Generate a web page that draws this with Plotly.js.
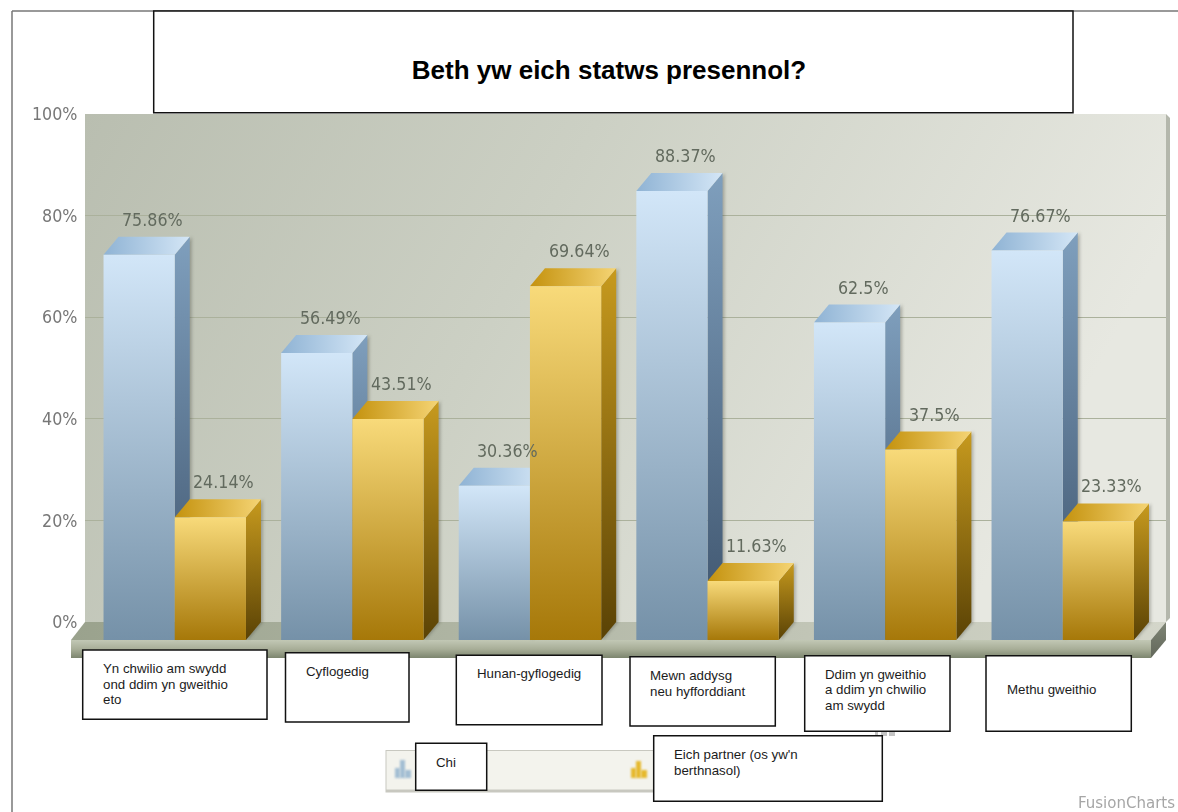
<!DOCTYPE html>
<html>
<head>
<meta charset="utf-8">
<script src="https://cdn.plot.ly/plotly-3.0.0.min.js"></script>
<style>html,body{margin:0;padding:0;background:#fff;overflow:hidden}#chart{width:1178px;height:812px}</style>
</head>
<body>
<div id="chart"></div>
<script>
const chartTitle = "Beth yw eich statws presennol?";
const categories = ["Yn chwilio am swydd<br>ond ddim yn gweithio<br>eto","Cyflogedig","Hunan-gyflogedig","Mewn addysg<br>neu hyfforddiant","Ddim yn gweithio<br>a ddim yn chwilio<br>am swydd","Methu gweithio"];
const chiValues = [75.86,56.49,30.36,88.37,62.5,76.67];
const partnerValues = [24.14,43.51,69.64,11.63,37.5,23.33];
const seriesNames = ["Chi","Eich partner (os yw'n<br>berthnasol)"];
const yTicks = [0,20,40,60,80,100];

const W=1178,H=812;
const X=p=>p/W, Y=p=>1-p/H;
// scale of the front plane
const catPx=177.6, x0Px=174.75, pctPx=5.08, baseY=640;
const depthX=15/catPx, depthY=18/pctPx;
const bargap=0.198, barW=(1-bargap)/2;

const shapes=[], grads={}, shadowed=[], blurred=[];
function add(s,g){shapes.push(s); if(g) grads[shapes.length-1]=g;}
function pxPath(pts){return 'M'+pts.map(p=>X(p[0])+','+Y(p[1])).join('L')+'Z';}
function paperPoly(pts,fill,g,layer){add({type:'path',xref:'paper',yref:'paper',path:pxPath(pts),fillcolor:fill,line:{width:0},layer:layer||'below'},g);}
function box(x0,y0,x1,y1){add({type:'rect',xref:'paper',yref:'paper',x0:X(x0),x1:X(x1),y0:Y(y0),y1:Y(y1),fillcolor:'#fff',line:{color:'#111',width:1.5},layer:'above'});}

// frame
add({type:'line',xref:'paper',yref:'paper',x0:X(12),x1:X(12),y0:Y(11),y1:0,line:{color:'#777',width:1.5},layer:'below'});
add({type:'line',xref:'paper',yref:'paper',x0:X(12),x1:1,y0:Y(11),y1:Y(11),line:{color:'#777',width:1.5},layer:'below'});
// wall
paperPoly([[85,114],[1166,114],[1166,622],[85,622]],'#d0d3c8','wall');
paperPoly([[1166,114],[1170,118],[1170,618],[1166,622]],'#b4b7ac');
// floor
const floorShapes=[
 [[[71,640],[85,622],[1166,622],[1151,640]],'#b8bdac','floorTop'],
 [[[71,640],[1151,640],[1151,658],[71,658]],'#a0a690','floorFront'],
 [[[1151,640],[1166,622],[1166,640],[1151,658]],'#70766a','floorSide']
];
floorShapes.forEach(f=>paperPoly(f[0],f[1],f[2]));

// 3D faces of the bars, derived from the data
function faces(i,v,offset,side,top){
  const l=i+offset-barW, r=i+offset, d=depthX, h=depthY;
  const q=(a)=>'M'+a.map(p=>p[0]+','+p[1]).join('L')+'Z';
  add({type:'path',xref:'x2',yref:'y2',layer:'below',line:{width:0},fillcolor:'#6a86a0',
       path:q([[r,0],[r+d,h],[r+d,v+h],[r,v]])},side);
  shadowed.push(shapes.length-1);
  add({type:'path',xref:'x2',yref:'y2',layer:'below',line:{width:0},fillcolor:'#a8c4dc',
       path:q([[l,v],[r,v],[r+d,v+h],[l+d,v+h]])},top);
}
categories.forEach((c,i)=>{
  faces(i,chiValues[i],0,'blueSide','blueTop');
});
categories.forEach((c,i)=>{
  faces(i,partnerValues[i],barW,'goldSide','goldTop');
});

// legend background and icons
paperPoly([[385.5,750],[880,750],[880,792.5],[385.5,792.5]],'#c8c8c0');
paperPoly([[386.5,751],[879,751],[879,789.5],[386.5,789.5]],'#f3f3ed');
const bI='#a3bed3', gI='#e6b92e';
[[[395,768],[400,768],[400,778],[395,778]],[[400,760],[405,760],[405,778],[400,778]],[[405,770],[411,770],[411,778],[405,778]]].forEach(p=>{paperPoly(p,bI,null,'above');blurred.push(shapes.length-1);});
[[[631,768],[636,768],[636,778],[631,778]],[[636,761],[641,761],[641,778],[636,778]],[[641,770],[647,770],[647,778],[641,778]]].forEach(p=>{paperPoly(p,gI,null,'above');blurred.push(shapes.length-1);});
// faint remains of hidden text between two boxes
[[875,731,878,736],[881,731,887,736],[889,731,895,736]].forEach(r=>paperPoly([[r[0],r[1]],[r[2],r[1]],[r[2],r[3]],[r[0],r[3]]],'#c4c4c4',null,'above'));

// white label boxes
const boxes=[[82.7,650,267,719.3],[285.5,652.7,409,722],[456.3,655.3,602,724.7],[630,656.7,775.3,726],[804.7,655.7,950,731.3],[986,655.7,1131.3,731.3],[415.7,743.3,486.7,790.3],[653.7,735.7,882.3,801.3]];
add({type:'rect',xref:'paper',yref:'paper',x0:X(153.7),x1:X(1073),y0:Y(11),y1:Y(112.7),fillcolor:'#fff',line:{color:'#111',width:1.5},layer:'above'});
boxes.forEach(b=>box(b[0],b[1],b[2],b[3]));

const annotations=[];
const softFont='DejaVu Sans Condensed';
// value labels
function valueLabels(vals,offset,color){
  vals.forEach((v,i)=>annotations.push({xref:'x2',yref:'y2',x:i+offset-barW/2,y:v,xshift:13.5,yshift:35,text:v+'%',showarrow:false,xanchor:'center',yanchor:'middle',font:{family:softFont,size:17.7,color:color}}));
}
valueLabels(chiValues,0,'#626a5e');
valueLabels(partnerValues,barW,'#626a5e');
const softCount=annotations.length;
// category labels, line by line
const lineH=15.5;
const labelPos=[[101,668.7],[303.5,671.5],[474.7,673],[647.7,675.7],[822.7,674],[1004.7,689.3]];
function textLines(t,x,y){
  t.split('<br>').forEach((s,k)=>annotations.push({xref:'paper',yref:'paper',x:X(x),y:Y(y+k*lineH),text:s,showarrow:false,xanchor:'left',yanchor:'middle',align:'left',font:{family:'Liberation Sans',size:13.3,color:'#1c1c1c'}}));
}
categories.forEach((c,i)=>textLines(c,labelPos[i][0],labelPos[i][1]));
textLines(seriesNames[0],434,762.3);
textLines(seriesNames[1],672,754.7);
annotations.push({xref:'paper',yref:'paper',x:X(1177),y:Y(802),text:'FusionCharts',showarrow:false,xanchor:'right',yanchor:'middle',font:{family:softFont,size:16.7,color:'#a6a6a6'}});

const plain=n=>n.split('<br>').join(' ');
const traces=[
 {type:'scatter',mode:'none',x:[0],y:[0],xaxis:'x',yaxis:'y',showlegend:false,hoverinfo:'skip'},
 {type:'bar',name:plain(seriesNames[0]),x:categories,y:chiValues,xaxis:'x2',yaxis:'y2',marker:{color:'#a8c4dc',line:{width:0}},cliponaxis:false},
 {type:'bar',name:plain(seriesNames[1]),x:categories,y:partnerValues,xaxis:'x2',yaxis:'y2',marker:{color:'#d8ac3a',line:{width:0}},cliponaxis:false}
];
const layout={
 width:W,height:H,margin:{l:0,r:0,t:0,b:0},paper_bgcolor:'#fff',plot_bgcolor:'rgba(0,0,0,0)',
 showlegend:false,barmode:'group',bargap:bargap,bargroupgap:0,
 title:{text:chartTitle,xref:'paper',yref:'paper',x:X(609),y:Y(70),xanchor:'center',yanchor:'middle',font:{family:'Liberation Sans',size:26,color:'#000',weight:700}},
 xaxis:{domain:[X(85),X(1166)],range:[0,1],visible:false,fixedrange:true,anchor:'y'},
 yaxis:{domain:[Y(622),Y(114)],range:[0,100],anchor:'x',tickmode:'array',tickvals:yTicks,ticktext:yTicks.map(t=>t+'%'),ticks:'outside',ticklen:3,tickcolor:'rgba(0,0,0,0)',
   showline:false,zeroline:false,showgrid:true,gridcolor:'#abb19c',gridwidth:1,tickfont:{family:softFont,size:17.7,color:'#777'},fixedrange:true},
 xaxis2:{domain:[0,1],range:[(0-x0Px)/catPx,(W-x0Px)/catPx],type:'category',categoryorder:'array',categoryarray:categories,visible:false,fixedrange:true,anchor:'y2'},
 yaxis2:{domain:[0,1],range:[(baseY-H)/pctPx,baseY/pctPx],visible:false,fixedrange:true,anchor:'x2'},
 shapes:shapes,annotations:annotations
};
const gradDefs={
 wall:[0,0,1,0.25,[[0,'#b9beb0'],[0.45,'#ccd0c4'],[1,'#e7e8e1']]],
 floorTop:[0,0,1,0,[[0,'#9aa28d'],[1,'#d4d6ca']]],
 floorFront:[0,0,0,1,[[0,'#c2c8b5'],[0.5,'#a8ae98'],[1,'#7c856e']]],
 floorSide:[0,0,0,1,[[0,'#7f8576'],[1,'#62675a']]],
 blueFront:[0,0,0,1,[[0,'#d2e6f8'],[1,'#7591a8']]],
 blueSide:[0,0,0,1,[[0,'#7f9fbd'],[1,'#3d536c']]],
 blueTop:[0,0,1,0,[[0,'#8fb3d4'],[1,'#d4e6f6']]],
 goldFront:[0,0,0,1,[[0,'#f8da7a'],[1,'#a67809']]],
 goldSide:[0,0,0,1,[[0,'#c79a1e'],[1,'#5a4205']]],
 goldTop:[0,0,1,0,[[0,'#c4920e'],[1,'#f5d474']]]
};
Plotly.newPlot('chart',traces,layout,{displayModeBar:false,staticPlot:true}).then(gd=>{
  const svg=gd.querySelector('svg.main-svg');
  const ns='http://www.w3.org/2000/svg';
  const defs=document.createElementNS(ns,'defs');
  Object.keys(gradDefs).forEach(k=>{
    const d=gradDefs[k], g=document.createElementNS(ns,'linearGradient');
    g.setAttribute('id','g-'+k);
    ['x1','y1','x2','y2'].forEach((a,i)=>g.setAttribute(a,d[i]));
    d[4].forEach(st=>{const s=document.createElementNS(ns,'stop');s.setAttribute('offset',st[0]);s.setAttribute('stop-color',st[1]);g.appendChild(s);});
    defs.appendChild(g);
  });
  svg.insertBefore(defs,svg.firstChild);
  const fill=(el,k)=>el.style.setProperty('fill','url(#g-'+k+')');
  const shapeEls=i=>gd.querySelectorAll('.shapelayer path[data-index="'+i+'"]');
  Object.keys(grads).forEach(i=>shapeEls(i).forEach(p=>fill(p,grads[i])));
  const tr=gd.querySelectorAll('.barlayer .trace');
  ['blueFront','goldFront'].forEach((k,i)=>{ if(tr[i]) tr[i].querySelectorAll('.point path').forEach(p=>fill(p,k)); });
  // the reference is a soft, slightly blurred capture
  shadowed.forEach(i=>shapeEls(i).forEach(p=>p.style.filter='drop-shadow(2px 0 1.5px rgba(40,40,30,.28))'));
  blurred.forEach(i=>shapeEls(i).forEach(p=>p.style.filter='blur(0.9px)'));
  const anns=gd.querySelectorAll('.annotation');
  anns.forEach((a,i)=>{ if(i<softCount||i===anns.length-1) a.style.filter='blur(0.4px)'; });
  gd.querySelectorAll('.ytick text').forEach(t=>t.style.filter='blur(0.4px)');
});
</script>
</body>
</html>
